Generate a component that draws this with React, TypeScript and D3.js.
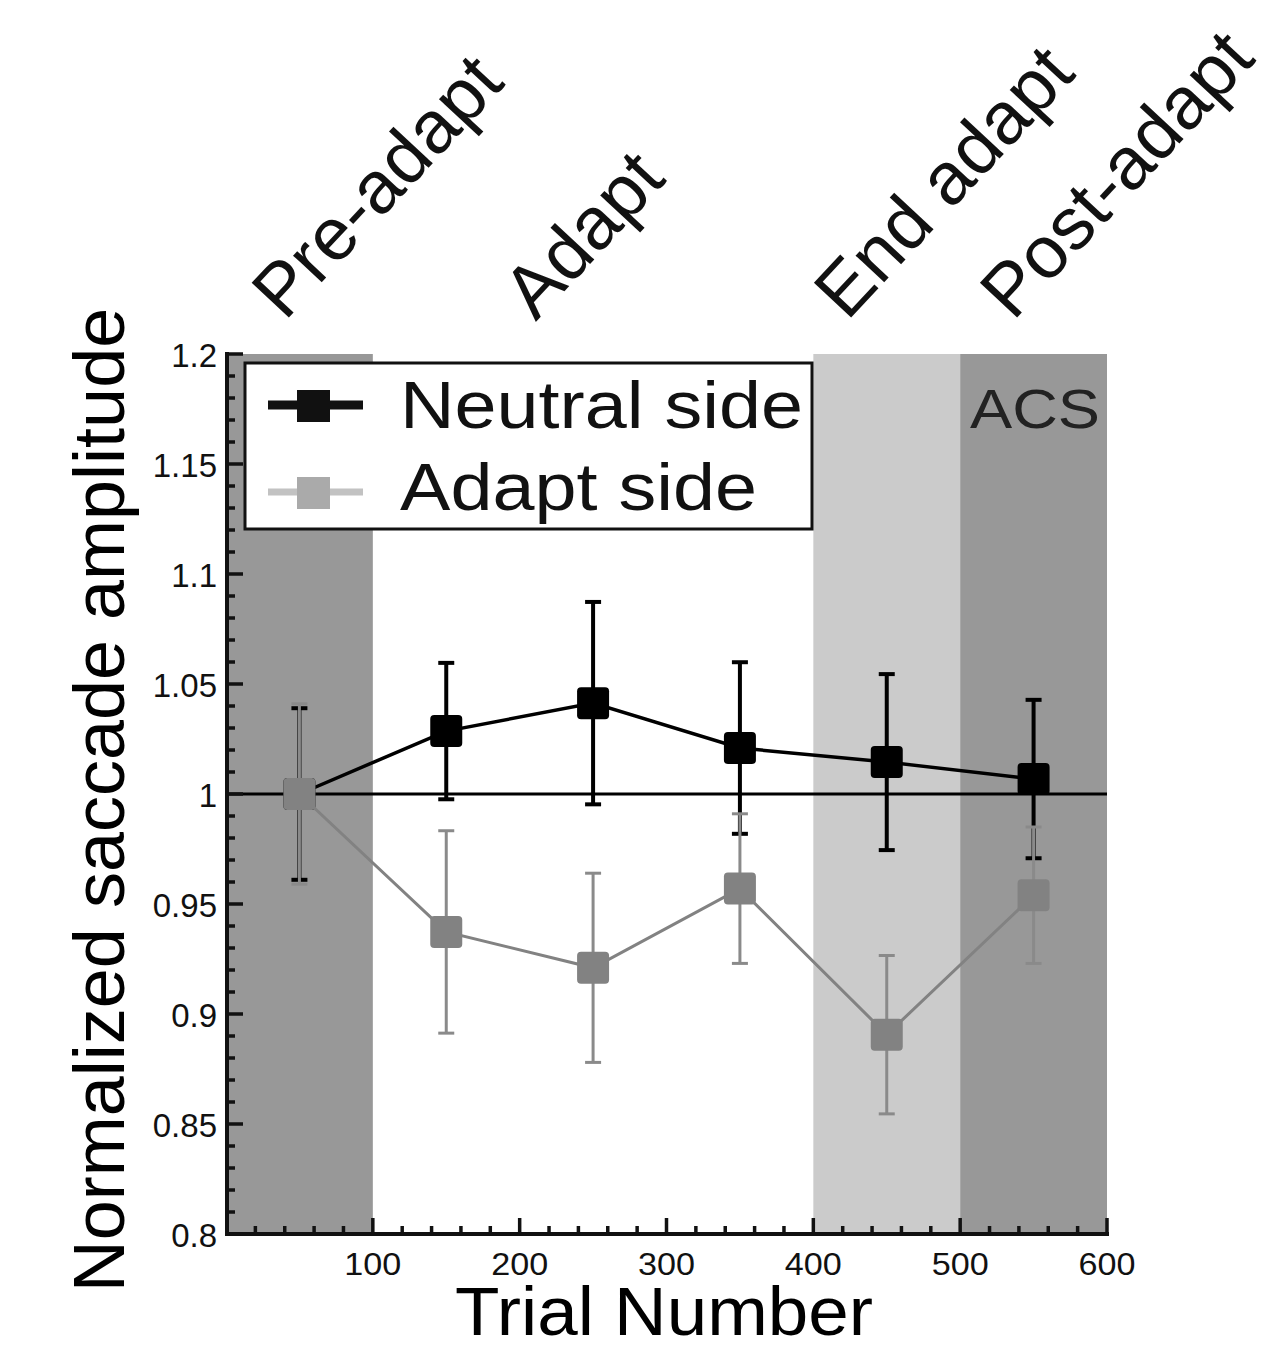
import React from 'react';
import * as d3 from 'd3';

// trial bins (centre of each 100-trial block)
const trials = [50, 150, 250, 350, 450, 550];
const neutralMean = [1.0, 1.0286, 1.0413, 1.0209, 1.0145, 1.0068];
const neutralErr = [0.039, 0.031, 0.046, 0.039, 0.04, 0.036];
const adaptMean = [1.0, 0.9373, 0.921, 0.957, 0.8906, 0.954];
const adaptErr = [0.041, 0.046, 0.043, 0.034, 0.036, 0.031];

const bandStart = [0, 400, 500];
const bandEnd = [100, 500, 600];
const bandFill = ['#989898', '#cbcbcb', '#989898'];

const phaseLabels = ['Pre-adapt', 'Adapt', 'End adapt', 'Post-adapt'];
const phaseAt = [42, 213, 425, 538];

const xTicks = [100, 200, 300, 400, 500, 600];
const yTicks = [0.8, 0.85, 0.9, 0.95, 1, 1.05, 1.1, 1.15, 1.2];
const yTickLabels = ['0.8', '0.85', '0.9', '0.95', '1', '1.05', '1.1', '1.15', '1.2'];

const FONT = '"Liberation Sans", Arial, sans-serif';

export default function App() {
  const width = 1261;
  const height = 1348;
  const x = d3.scaleLinear().domain([0, 600]).range([226, 1107]);
  const y = d3.scaleLinear().domain([0.8, 1.2]).range([1234, 354]);
  const axisX = 227;

  const line = d3
    .line<number>()
    .x((_, i) => x(trials[i]))
    .y((d) => y(d));

  const minorX = d3.range(20, 601, 20).filter((v) => v % 100 !== 0);
  const minorY = d3.range(0.81, 1.2, 0.01).filter((v) => Math.abs(Math.round(v * 20) - v * 20) > 0.01);

  const series = (means: number[], errs: number[], col: string, barCol: string, lw: number, ew: number) => (
    <g>
      <path d={line(means) || ''} fill="none" stroke={col} strokeWidth={lw} />
      {means.map((m, i) => (
        <g key={i}>
          <line x1={x(trials[i])} x2={x(trials[i])} y1={y(m - errs[i])} y2={y(m + errs[i])} stroke={barCol} strokeWidth={ew} />
          <line x1={x(trials[i]) - 8} x2={x(trials[i]) + 8} y1={y(m - errs[i])} y2={y(m - errs[i])} stroke={barCol} strokeWidth={ew} />
          <line x1={x(trials[i]) - 8} x2={x(trials[i]) + 8} y1={y(m + errs[i])} y2={y(m + errs[i])} stroke={barCol} strokeWidth={ew} />
          <rect x={x(trials[i]) - 16} y={y(m) - 16} width={32} height={32} rx={4} fill={col} />
        </g>
      ))}
    </g>
  );

  return (
    <svg width={width} height={height} style={{ position: 'absolute', left: 0, top: 0, background: '#fff' }} fontFamily={FONT}>
      {/* phase shading */}
      {bandStart.map((s, i) => (
        <rect key={i} x={Math.max(x(s), axisX)} y={y(1.2)} width={x(bandEnd[i]) - Math.max(x(s), axisX)} height={y(0.8) - y(1.2)} fill={bandFill[i]} />
      ))}

      {/* reference line at 1 */}
      <line x1={axisX} x2={x(600)} y1={y(1)} y2={y(1)} stroke="#000" strokeWidth={3} />

      {series(neutralMean, neutralErr, '#000', '#000', 3.5, 4)}
      {series(adaptMean, adaptErr, '#828282', '#8a8a8a', 3, 3)}

      {/* axes */}
      <line x1={axisX} x2={axisX} y1={y(1.2) - 2} y2={y(0.8) + 2} stroke="#111" strokeWidth={4} />
      <line x1={axisX - 2} x2={x(600) + 2} y1={y(0.8)} y2={y(0.8)} stroke="#111" strokeWidth={4} />
      {yTicks.map((t, i) => (
        <g key={t}>
          <line x1={axisX} x2={axisX + 16} y1={y(t)} y2={y(t)} stroke="#111" strokeWidth={3.5} />
          <text x={217} y={y(t) + 13} textAnchor="end" fontSize={33} fill="#111">{yTickLabels[i]}</text>
        </g>
      ))}
      {minorY.map((t) => (
        <line key={t} x1={axisX} x2={axisX + 8} y1={y(t)} y2={y(t)} stroke="#111" strokeWidth={3.5} />
      ))}
      {xTicks.map((t) => (
        <g key={t}>
          <line x1={x(t)} x2={x(t)} y1={y(0.8)} y2={y(0.8) - 16} stroke="#111" strokeWidth={3.5} />
          <text x={x(t)} y={1275} textAnchor="middle" fontSize={32} fill="#111" textLength={57} lengthAdjust="spacingAndGlyphs">{t}</text>
        </g>
      ))}
      {minorX.map((t) => (
        <line key={t} x1={x(t)} x2={x(t)} y1={y(0.8)} y2={y(0.8) - 8} stroke="#111" strokeWidth={3.5} />
      ))}

      {/* axis titles */}
      <text x={664} y={1335} textAnchor="middle" fontSize={68} fill="#000" textLength={418} lengthAdjust="spacingAndGlyphs">Trial Number</text>
      <text transform="translate(124,800) rotate(-90)" textAnchor="middle" fontSize={72} fill="#000">Normalized saccade amplitude</text>

      {/* phase labels */}
      {phaseLabels.map((lab, i) => (
        <text key={lab} transform={`translate(${x(phaseAt[i]) - 3},322) rotate(-47)`} fontSize={74} fill="#111">{lab}</text>
      ))}

      <text x={970} y={428} fontSize={56} fill="#222" textLength={130} lengthAdjust="spacingAndGlyphs">ACS</text>

      {/* legend */}
      <rect x={245} y={363} width={567} height={166} fill="#fff" stroke="#111" strokeWidth={3} />
      <line x1={268} x2={363} y1={405} y2={405} stroke="#111" strokeWidth={9} />
      <rect x={297} y={390} width={33} height={32} fill="#111" />
      <line x1={268} x2={363} y1={492} y2={492} stroke="#c2c2c2" strokeWidth={7} />
      <rect x={297} y={477} width={33} height={32} fill="#aaa" />
      <text x={400} y={428} fontSize={66} fill="#111" textLength={403} lengthAdjust="spacingAndGlyphs">Neutral side</text>
      <text x={400} y={510} fontSize={66} fill="#111" textLength={357} lengthAdjust="spacingAndGlyphs">Adapt side</text>
    </svg>
  );
}
